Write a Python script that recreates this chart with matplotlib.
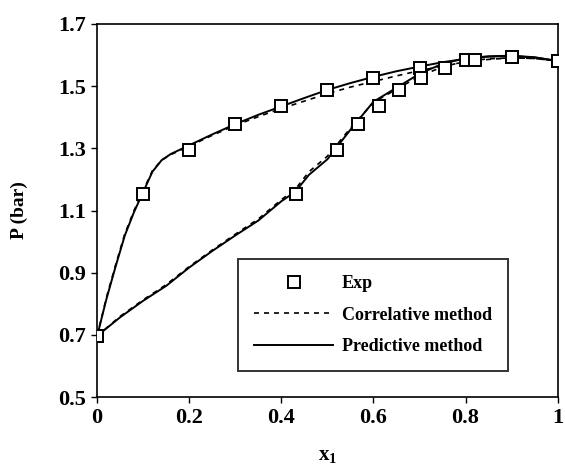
import matplotlib
matplotlib.use("Agg")
import matplotlib.pyplot as plt
from matplotlib.lines import Line2D

plt.rcParams['font.family'] = ['Liberation Serif', 'DejaVu Serif']
plt.rcParams['font.weight'] = 'bold'
plt.rcParams['mathtext.fontset'] = 'custom'
plt.rcParams['mathtext.rm'] = 'Liberation Serif:bold'
plt.rcParams['mathtext.bf'] = 'Liberation Serif:bold'
plt.rcParams['mathtext.it'] = 'Liberation Serif:bold'

# experimental points (liquid x1, vapour y1, pressure)
x_exp = [0.0, 0.1, 0.2, 0.3, 0.4, 0.5, 0.6, 0.7, 0.8, 0.9, 1.0]
y_exp = [0.0, 0.431, 0.521, 0.567, 0.612, 0.655, 0.703, 0.756, 0.82, 0.9, 1.0]
p_exp = [0.697, 1.153, 1.295, 1.378, 1.436, 1.488, 1.526, 1.558, 1.584, 1.594, 1.581]

# predictive method (solid)
x_pred = [0, 0.02, 0.04, 0.06, 0.08, 0.1, 0.12, 0.14, 0.16, 0.2, 0.25, 0.3, 0.35,
          0.4, 0.45, 0.5, 0.55, 0.6, 0.65, 0.7, 0.75, 0.8, 0.85, 0.9, 0.95, 1.0]
p_bub_pred = [0.697, 0.815, 0.92, 1.02, 1.095, 1.16, 1.225, 1.262, 1.282, 1.31, 1.345,
              1.378, 1.408, 1.435, 1.462, 1.488, 1.51, 1.53, 1.548, 1.563, 1.577,
              1.588, 1.595, 1.597, 1.592, 1.581]
y_pred = [0, 0.05, 0.1, 0.15, 0.2, 0.25, 0.3, 0.35, 0.4, 0.43, 0.46, 0.5, 0.55,
          0.6, 0.65, 0.7, 0.75, 0.8, 0.85, 0.9, 0.95, 1.0]
p_dew_pred = [0.697, 0.757, 0.81, 0.858, 0.917, 0.97, 1.02, 1.068, 1.13, 1.16, 1.215,
              1.265, 1.36, 1.45, 1.495, 1.54, 1.572, 1.59, 1.596, 1.598, 1.593, 1.581]

# correlative method (dashed)
x_corr = [0, 0.02, 0.04, 0.06, 0.08, 0.1, 0.12, 0.14, 0.16, 0.2, 0.25, 0.3, 0.35,
          0.4, 0.45, 0.5, 0.55, 0.6, 0.65, 0.7, 0.75, 0.8, 0.85, 0.9, 0.95, 1.0]
p_bub_corr = [0.697, 0.82, 0.925, 1.025, 1.1, 1.165, 1.228, 1.262, 1.28, 1.307, 1.342,
              1.374, 1.402, 1.428, 1.452, 1.476, 1.497, 1.515, 1.533, 1.55, 1.565,
              1.578, 1.586, 1.591, 1.589, 1.581]
y_corr = [0, 0.05, 0.1, 0.15, 0.2, 0.25, 0.3, 0.35, 0.4, 0.43, 0.46, 0.5, 0.55,
          0.6, 0.65, 0.7, 0.75, 0.8, 0.85, 0.9, 0.95, 1.0]
p_dew_corr = [0.697, 0.76, 0.813, 0.862, 0.92, 0.973, 1.024, 1.073, 1.135, 1.168, 1.225,
              1.275, 1.365, 1.448, 1.49, 1.532, 1.562, 1.58, 1.588, 1.591, 1.589, 1.581]

fig = plt.figure(figsize=(5.65, 4.70), dpi=100)
ax = fig.add_axes([0.172, 0.155, 0.815, 0.794])

ax.plot(x_pred, p_bub_pred, color='black', lw=1.4)
ax.plot(y_pred, p_dew_pred, color='black', lw=1.4)
ax.plot(x_corr, p_bub_corr, color='black', lw=1.2, linestyle=(0, (3, 3)))
ax.plot(y_corr, p_dew_corr, color='black', lw=1.2, linestyle=(0, (3, 3)))
ax.plot(x_exp, p_exp, 's', ms=9, mfc='white', mec='black', mew=1.4, zorder=5)
ax.plot(y_exp, p_exp, 's', ms=9, mfc='white', mec='black', mew=1.4, zorder=5)

ax.set_xlim(0, 1)
ax.set_ylim(0.5, 1.7)
ax.set_xticks([0, 0.2, 0.4, 0.6, 0.8, 1.0])
ax.set_xticklabels(['0', '0.2', '0.4', '0.6', '0.8', '1'])
ax.set_yticks([0.5, 0.7, 0.9, 1.1, 1.3, 1.5, 1.7])
ax.tick_params(direction='out', length=4, width=1, labelsize=16, pad=4)
for s in ax.spines.values():
    s.set_linewidth(1.2)

ax.set_xlabel(r'$\mathbf{x}_\mathbf{1}$', fontsize=15, labelpad=13)
ax.set_ylabel('P (bar)', fontsize=14, fontweight='bold', labelpad=22)

handles = [
    Line2D([], [], marker='s', ls='none', ms=9, mfc='white', mec='black', mew=1.4),
    Line2D([], [], color='black', lw=1.2, linestyle=(0, (3, 3))),
    Line2D([], [], color='black', lw=1.4),
]
labels = ['Exp', 'Correlative method', 'Predictive method']
leg = ax.legend(handles, labels, loc='center', bbox_to_anchor=(0.31, 0.054, 0.577, 0.332),
                bbox_transform=ax.transAxes, fontsize=13, frameon=True, fancybox=False,
                handlelength=4.4, handletextpad=0.45, labelspacing=0.8, borderpad=0.9,
                borderaxespad=0)
leg.get_frame().set_edgecolor('black')
leg.get_frame().set_linewidth(1.4)
for t in leg.get_texts():
    t.set_fontweight('bold')

fig.savefig('out.png', dpi=100)
